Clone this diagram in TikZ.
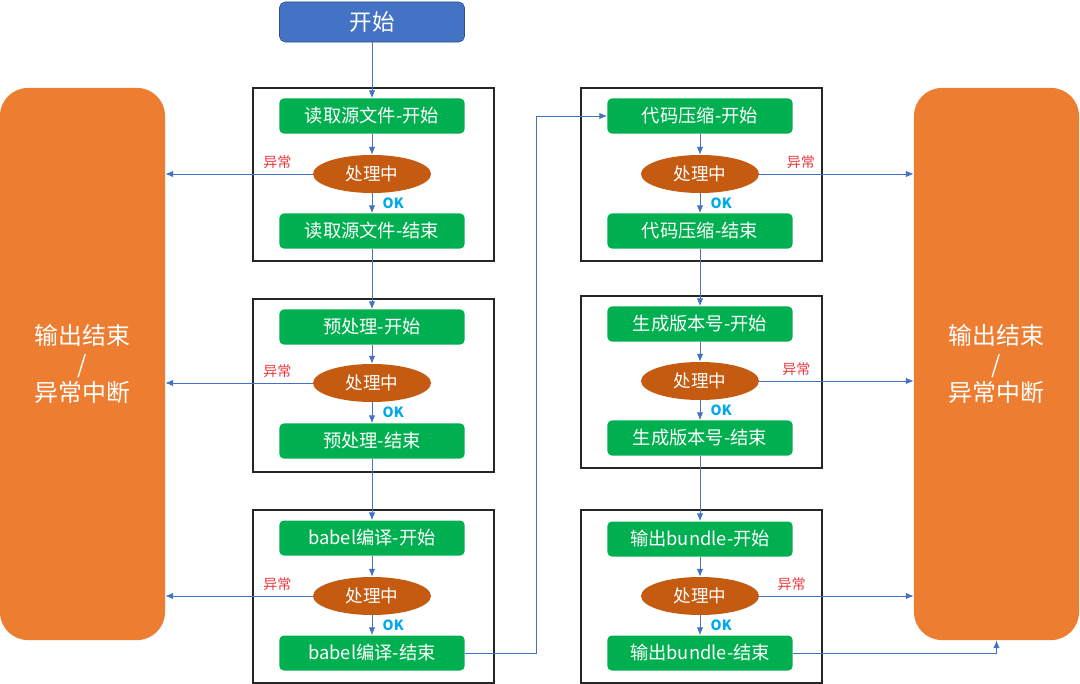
\documentclass[tikz,border=0pt]{standalone}
\usepackage{fontspec}
\setmainfont{Noto Sans CJK SC}
\usetikzlibrary{shapes.geometric,arrows.meta}

\definecolor{flowblue}{HTML}{4472C4}
\definecolor{stagegreen}{HTML}{00B050}
\definecolor{busyorange}{HTML}{C55A11}
\definecolor{sinkorange}{HTML}{ED7D31}
\definecolor{failred}{HTML}{E8383D}
\definecolor{okblue}{HTML}{00A8EC}

\begin{document}
\begin{tikzpicture}[x=0.025cm,y=0.025cm,
  stage/.style={fill=stagegreen, text=white, rounded corners=3pt,
    minimum width=4.625cm, minimum height=0.875cm, inner sep=0pt,
    font=\fontsize{13}{15}\selectfont},
  busy/.style={ellipse, fill=busyorange, text=white, inner sep=0pt,
    minimum width=2.95cm, minimum height=0.95cm,
    font=\fontsize{12.5}{14}\selectfont},
  sink/.style={fill=sinkorange, text=white, rounded corners=0.7cm,
    minimum width=4.125cm, minimum height=13.8cm, align=center,
    font=\fontsize{17}{20}\selectfont},
  frame/.style={draw=black!85, line width=0.8pt},
  flow/.style={draw=flowblue, line width=0.6pt, -{Latex[length=5.5pt,width=4.5pt]}},
  fail/.style={text=failred, font=\fontsize{10}{12}\selectfont},
  ok/.style={text=okblue, font=\bfseries\fontsize{10}{12}\selectfont}]

  \useasboundingbox (0,0) rectangle (1080,-684);

  % Start
  \node[fill=flowblue, draw=flowblue!70!black, text=white, rounded corners=4pt,
    minimum width=4.625cm, minimum height=1cm,
    font=\fontsize{16}{18}\selectfont] (start) at (372,-22) {开始};

  % Output / abort
  \node[sink] (endL) at (82.5,-364) {输出结束\\/\\异常中断};
  \node[sink] (endR) at (996.5,-364) {输出结束\\/\\异常中断};

  % Frames
  \draw[frame] (253,-88) rectangle (494,-261);
  \draw[frame] (253,-299) rectangle (494,-472);
  \draw[frame] (253,-510) rectangle (494,-683);
  \draw[frame] (581,-88) rectangle (822,-261);
  \draw[frame] (581,-296) rectangle (822,-468);
  \draw[frame] (581,-510) rectangle (822,-683);

  % Left column
  \node[stage] (readS) at (372,-116) {读取源文件-开始};
  \node[busy]  (readP) at (372,-174) {处理中};
  \node[stage] (readE) at (372,-231) {读取源文件-结束};

  \node[stage] (preS) at (372,-327) {预处理-开始};
  \node[busy]  (preP) at (372,-383) {处理中};
  \node[stage] (preE) at (372,-441) {预处理-结束};

  \node[stage] (babS) at (372,-538) {babel编译-开始};
  \node[busy]  (babP) at (372,-596) {处理中};
  \node[stage] (babE) at (372,-653) {babel编译-结束};

  % Right column
  \node[stage] (zipS) at (700,-116) {代码压缩-开始};
  \node[busy]  (zipP) at (700,-174) {处理中};
  \node[stage] (zipE) at (700,-231) {代码压缩-结束};

  \node[stage] (verS) at (700,-324) {生成版本号-开始};
  \node[busy]  (verP) at (700,-381) {处理中};
  \node[stage] (verE) at (700,-438) {生成版本号-结束};

  \node[stage] (bunS) at (700,-539) {输出bundle-开始};
  \node[busy]  (bunP) at (700,-596) {处理中};
  \node[stage] (bunE) at (700,-653) {输出bundle-结束};

  % Main flow
  \draw[flow] (start) -- (readS);
  \draw[flow] (readS) -- (readP);
  \draw[flow] (readP) -- node[ok, right, xshift=4pt] {OK} (readE);
  \draw[flow] (readE) -- (preS);
  \draw[flow] (preS) -- (preP);
  \draw[flow] (preP) -- node[ok, right, xshift=4pt] {OK} (preE);
  \draw[flow] (preE) -- (babS);
  \draw[flow] (babS) -- (babP);
  \draw[flow] (babP) -- node[ok, right, xshift=4pt] {OK} (babE);
  \draw[flow] (babE.east) -- ++(72,0) |- (zipS.west);
  \draw[flow] (zipS) -- (zipP);
  \draw[flow] (zipP) -- node[ok, right, xshift=4pt] {OK} (zipE);
  \draw[flow] (zipE) -- (verS);
  \draw[flow] (verS) -- (verP);
  \draw[flow] (verP) -- node[ok, right, xshift=4pt] {OK} (verE);
  \draw[flow] (verE) -- (bunS);
  \draw[flow] (bunS) -- (bunP);
  \draw[flow] (bunP) -- node[ok, right, xshift=4pt] {OK} (bunE);
  \draw[flow] (bunE.east) -| (endR.south);

  % Exceptions
  \draw[flow] (readP.west) -- node[fail, pos=0.24, above] {异常} (endL.east |- readP.west);
  \draw[flow] (preP.west) -- node[fail, pos=0.24, above] {异常} (endL.east |- preP.west);
  \draw[flow] (babP.west) -- node[fail, pos=0.24, above] {异常} (endL.east |- babP.west);
  \draw[flow] (zipP.east) -- node[fail, pos=0.27, above] {异常} (endR.west |- zipP.east);
  \draw[flow] (verP.east) -- node[fail, pos=0.24, above] {异常} (endR.west |- verP.east);
  \draw[flow] (bunP.east) -- node[fail, pos=0.21, above] {异常} (endR.west |- bunP.east);

\end{tikzpicture}
\end{document}
